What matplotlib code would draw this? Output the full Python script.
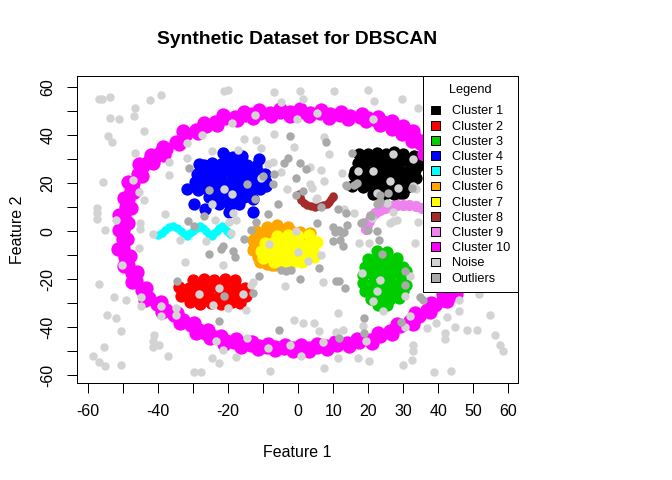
import matplotlib.pyplot as plt
from matplotlib.patches import Patch

plt.rcParams['font.family'] = ['Liberation Sans', 'DejaVu Sans']

# ------------------------------------------------------------ #
# datos (coordenadas Feature 1 / Feature 2)
# ------------------------------------------------------------ #

# Cluster 1 - negro
c1_x = [20, 22.5, 25, 27.5, 30,
        17, 19.5, 22, 24.5, 27, 29.5, 32,
        16.3, 18.8, 21.3, 23.8, 26.3, 28.8, 31.3, 33.5,
        16.8, 19.3, 21.8, 24.3, 26.8, 29.3, 31.8, 33.8,
        18.5, 21, 23.5, 26, 28.5, 31,
        21.5, 24.5, 27.5, 30,
        16, 17.5, 33, 34.5, 15.5, 29]
c1_y = [32.2, 32.8, 32.4, 32.9, 32.3,
        28.5, 29.1, 28.7, 29.2, 28.6, 29.1, 28.7,
        25, 25.6, 25.2, 25.7, 25.1, 25.6, 25.2, 25.5,
        21.5, 22.1, 21.7, 22.2, 21.6, 22.1, 21.7, 22,
        18.3, 18.8, 18.2, 18.7, 18.1, 18.6,
        15.5, 15.2, 15.6, 15.8,
        23.5, 32, 31.5, 27.5, 18.9, 16.1]

# Cluster 2 - rojo
c2_x = [-30, -27, -24, -21, -18,
        -34, -31.3, -28.6, -25.9, -23.2, -20.5, -17.8, -15.2,
        -33.5, -30.8, -28.1, -25.4, -22.7, -20, -17.3, -14.8, -14.5,
        -31, -28, -25, -22, -19, -16.5]
c2_y = [-20.2, -19.7, -20.1, -19.8, -20.2,
        -23.3, -23.8, -23.4, -23.9, -23.3, -23.8, -23.4, -23.6,
        -27, -26.6, -27.2, -26.8, -27.3, -26.7, -27.1, -26.8, -25.2,
        -29.6, -30.1, -29.7, -30.2, -29.6, -29.8]

# Cluster 3 - verde
c3_x = [22.5, 25.5,
        20, 22.7, 25.4, 28.1,
        19, 21.7, 24.4, 27.1, 29.8,
        18.5, 21.2, 23.9, 26.6, 29.3, 30.8,
        18.5, 21.2, 23.9, 26.6, 29.3, 30.8,
        19.2, 21.9, 24.6, 27.3, 30,
        20.8, 23.5, 26.2, 28.8,
        22.8, 25.5]
c3_y = [-8.3, -8.8,
        -11.5, -11.1, -11.7, -11.3,
        -14.8, -14.4, -15.0, -14.5, -14.9,
        -18.1, -17.7, -18.3, -17.8, -18.2, -16.5,
        -21.4, -21.8, -21.2, -21.7, -21.3, -22.5,
        -24.8, -24.4, -25.0, -24.5, -24.9,
        -28.0, -27.6, -28.2, -27.8,
        -30.6, -30.9]

# Cluster 4 - azul
c4_x = [-21, -18.5, -16,
        -27, -24.5, -22, -19.5, -17, -14.5, -12.2,
        -29, -26.5, -24, -21.5, -19, -16.5, -14, -11.5, -9.5,
        -29.5, -27, -24.5, -22, -19.5, -17, -14.5, -12, -9.3,
        -28.5, -26, -23.5, -21, -18.5, -16, -13.5, -11,
        -25.5, -23, -20.5, -18, -15.5, -13,
        -22.5, -19.5, -16.8,
        -31.8, -29.8, -28.4, -21.5, -19.8, -13, -9.2, -26.5, -11.2]
c4_y = [31.5, 30.8, 31.2,
        27.5, 28.3, 28, 28.6, 28.1, 27.8, 27,
        24, 24.8, 24.3, 24.9, 24.4, 24.8, 24.2, 24.6, 23.8,
        20.6, 21.2, 20.8, 21.3, 20.7, 21.2, 20.8, 21.1, 20.4,
        17.3, 17.8, 17.2, 17.7, 17.1, 17.6, 17.2, 17.5,
        14.2, 13.8, 14.3, 13.7, 14.1, 13.6,
        11.2, 10.8, 11.3,
        17.5, 11.4, 28, 32.6, 8, 8, 18.9, 9.5, 30]

# Cluster 5 - cian (zigzag)
c5_x = [-40, -39, -38, -37, -35.7, -34.5, -33.5, -32.7, -31.9, -31, -30, -29,
        -28.1, -27.2, -26.3, -25.5, -24.7, -24, -23.2, -22.5, -21.9, -21.2,
        -20.4, -19.6]
c5_y = [-1.5, -0.5, 0.6, 1.6, 2.3, 1.3, 0.1, -1.0, -2.0, -0.9, 0.2, 1.3,
        2.3, 1.3, 0.1, -1.0, -2.0, -0.9, 0.3, 1.4, 2.3, 1.3,
        0.0, -1.3]

# Cluster 6 - naranja
c6_x = [-9, -6, -3,
        -12, -9.5, -7, -4.5, -2, 0.5,
        -12.8, -11.5, -9, -6.5, -4, -1.5, 1, 3.3,
        -12.5, -11, -8.5, -6, -3.5, -1,
        -11.5, -10, -7.5, -5, -2.5,
        -9, -6.5, -4,
        -13, -10.9, -7.6]
c6_y = [2, 2.5, 1.8,
        0, -0.3, 0.3, -0.2, 0.2, -0.3,
        -3.5, -3.2, -3.7, -3.3, -3.8, -3.3, -3.6, -0.8,
        -7, -6.7, -7.2, -6.8, -7.3, -6.8,
        -10.5, -10.2, -10.7, -10.3, -10.6,
        -13.5, -14.2, -13.3,
        -7.8, -12.7, -14]

# Cluster 7 - amarillo
c7_x = [-6, -3, 0, 3,
        -9.5, -7, -4.5, -2, 0.5, 3, 5.3,
        -10.7, -8.2, -5.7, -3.2, -0.7, 1.8, 4.3,
        -10.2, -7.7, -5.2, -2.7, -0.2, 2.3, 4.6,
        -7, -4.3, -1.6, 1.2]
c7_y = [-1.8, -1.5, -2, -1.7,
        -4.9, -4.6, -5.1, -4.7, -5.2, -4.7, -4.4,
        -8, -7.7, -8.2, -7.8, -8.3, -7.8, -8.1,
        -11, -10.7, -11.2, -10.8, -11.3, -10.9, -10.6,
        -12.8, -13.1, -12.7, -12.9]

# Cluster 8 - marron (arco)
c8_x = [0.2, 0.4, 0.9, 1.6, 2.5, 3.6, 4.8, 6.0, 7.1, 8.1, 8.9, 9.5, 9.9, 10.0]
c8_y = [15.5, 14.2, 13.0, 11.9, 11.1, 10.6, 10.3, 10.4, 10.8, 11.5, 12.4, 13.4, 14.4, 14.9]

# Cluster 9 - violeta (arco)
c9_x = [19.5, 19.7, 20.1, 20.9, 22.0, 23.3, 24.8, 26.4, 28.2, 30.0,
        31.8, 33.6, 35.3, 36.8, 38.0, 39.1, 39.9, 40.3, 40.5]
c9_y = [1.0, 2.8, 4.5, 6.1, 7.5, 8.8, 9.8, 10.5, 10.9, 11.0,
        10.9, 10.5, 9.8, 8.8, 7.5, 6.1, 4.5, 2.8, 1.0]

# Cluster 10 - magenta (anillo): borde exterior, borde interior, centro
c10_x = [-51.3, -51.1, -49.7, -48.5, -45.6, -42.0, -38.7, -32.9, -27.0, -21.4,
         -15.5, -11.1, -5.3, 0.6, 6.4, 12.3, 18.1, 22.8, 26.9, 29.8,
         32.8, 35.8, 40.1, 44.0, 46.8, 48.1, 48.1, 47.5, 45.2, 42.4,
         37.8, 32.8, 26.9, 21.1, 14.4, 8.2, 3.1, -1.5, -6.6, -11.4,
         -16.4, -21.2, -25.1, -29.1, -33.8, -38.8, -43.8, -47.6, -49.7, -51.5,
         -48.6, -47.9, -47.0, -44.7, -41.6, -38.4, -34.1, -28.5, -23.1, -17.6,
         -12.8, -7.9, -2.3, 3.2, 8.8, 14.3, 19.3, 23.5, 26.8, 29.7,
         32.4, 36.0, 39.8, 43.0, 44.9, 45.5, 45.2, 43.9, 41.5, 38.0,
         33.4, 28.2, 22.7, 16.7, 10.6, 5.3, 0.7, -3.9, -8.7, -13.3,
         -17.9, -22.1, -25.8, -29.9, -34.5, -39.3, -43.5, -46.2, -48.1, -48.8,
         -50.0, -49.9, -49.8, -49.2, -48.5, -47.9, -47.2, -45.8, -44.4, -42.7,
         -41.0, -39.4, -37.8, -35.0, -32.1, -29.3, -26.4, -23.7, -20.9, -18.1,
         -15.2, -13.1, -10.9, -8.1, -5.2, -2.4, 0.5, 3.4, 6.2, 9.1,
         11.9, 14.8, 17.6, 19.9, 22.2, 24.2, 26.2, 27.6, 29.0, 30.5,
         31.9, 33.4, 34.8, 36.9, 39.0, 40.9, 42.8, 44.2, 45.6, 46.2,
         46.8, 46.8, 46.8, 46.5, 46.2, 45.1, 44.0, 42.7, 41.3, 39.1,
         36.8, 34.4, 31.9, 29.1, 26.2, 23.4, 20.5, 17.3, 14.0, 11.0,
         7.9, 5.5, 3.0, 0.8, -1.5, -4.0, -6.5, -8.9, -11.2, -13.6,
         -16.0, -18.4, -20.7, -22.6, -24.5, -26.5, -28.4, -30.7, -33.0, -35.4,
         -37.8, -40.3, -42.7, -44.6, -46.4, -47.5, -48.5, -49.4, -50.2, -50.1]
c10_y = [0.5, 6.6, 13.9, 20.6, 27.9, 31.8, 35.2, 41.6, 45.0, 48.4,
         49.6, 50.4, 50.8, 50.8, 50.4, 49.6, 48.8, 47.6, 45.9, 43.9,
         41.6, 37.8, 30.5, 21.5, 10.8, 0.5, -10.2, -20.8, -26.2, -29.2,
         -33.7, -38.4, -42.6, -46.5, -47.7, -49.0, -49.7, -49.9, -49.6, -49.0,
         -48.0, -46.9, -44.6, -42.2, -38.0, -33.7, -28.5, -21.2, -14.4, -7.2,
         3.4, 9.7, 16.4, 23.0, 28.3, 31.8, 36.4, 41.1, 44.4, 46.5,
         47.4, 48.0, 48.2, 48.0, 47.4, 46.7, 45.8, 44.4, 42.6, 40.6,
         37.6, 32.4, 24.7, 15.3, 5.4, -4.6, -14.7, -22.3, -26.3, -29.9,
         -34.2, -38.4, -42.3, -44.7, -45.9, -46.8, -47.2, -47.2, -46.8, -46.1,
         -45.0, -43.4, -41.2, -38.0, -34.0, -29.5, -23.6, -16.9, -10.2, -3.2,
         0.5, 3.5, 6.4, 10.0, 13.5, 16.8, 20.1, 23.7, 27.2, 29.1,
         31.0, 32.7, 34.3, 37.4, 40.5, 42.2, 43.9, 45.6, 47.2, 47.8,
         48.3, 48.7, 49.1, 49.3, 49.5, 49.5, 49.5, 49.3, 49.1, 48.7,
         48.3, 48.0, 47.6, 47.0, 46.4, 45.6, 44.7, 43.8, 42.8, 41.7,
         40.5, 38.7, 36.8, 33.3, 29.7, 25.4, 21.0, 15.8, 10.5, 5.5,
         0.5, -4.7, -9.9, -15.1, -20.3, -22.9, -25.5, -27.0, -28.5, -30.7,
         -32.8, -35.1, -37.4, -39.5, -41.5, -43.4, -45.3, -45.9, -46.5, -47.2,
         -47.8, -48.1, -48.4, -48.5, -48.6, -48.5, -48.3, -48.1, -47.8, -47.3,
         -46.8, -46.3, -45.7, -44.6, -43.5, -42.3, -41.1, -39.1, -37.0, -34.9,
         -32.8, -30.3, -27.8, -24.3, -20.7, -17.4, -14.0, -10.5, -7.0, -3.3]

# Noise - gris claro
noise_x = [-56.9, -56.1, -53.7, -42.4, -39.1, -46.6, -46.9, -53.7, -51.1, -44.0,
           -54.3, -53.1, -46.6, -55.7, -57.6, -57.6, -57.6, -55.1, -21.1, -27.5,
           -31.9, -24.5, -31.7, -36.9, -36.9, -47.3, -45.4, -44.0, -38.0, -52.1,
           -45.1, -45.1, -21.1, -24.7, -23.7,
           -20.2, -6.9, 0.5, 1.3, 10.3, 19.8, 21.7, -4.9, -12.3, -18.9,
           5.3, -0.4, 21.3, -6.9, -15.4, -12.1, 7.3, -1.1, -10.7, -17.3,
           8.9, -8.7, -7.3, 3.4, 6.5, 12.5, -4.9, 7.4, -3.2, 3.3,
           3.9, 5.1, -18.9, -10.7, -18.6, -19.9, -17.8, 17.0, 21.3, 13.1, 16.0,
           29.7, 34.3, 27.1, 32.9, 26.2, 32.9, 22.4, 27.1, 21.0,
           -41.4, -45.4, -33.7, -26.4, -32.3, -21.6, -50.4, -56.9, -52.6, -49.2,
           -44.9, -44.9, -54.7, -52.1, -50.7, -39.2, -39.2, -34.9, -34.9, -28.3,
           -22.7, -24.3, -41.1, -41.4, -41.6, -39.7, -55.4, -58.6, -56.9, -55.1,
           -50.7, -37.3, -29.7, -27.8, -23.5, -21.6, -24.5, -22.7,
           -19.2, -8.3, -0.7, -0.2, 2.7, 6.5, 17.3, 20.1, 7.0, -3.7,
           -13.0, -13.5, -15.9, -14.9, -20.2, 11.3, -1.1, 1.3, 4.6, 5.8,
           10.8, 12.7, 18.4, -14.5, -8.5, -2.3, 7.0, 19.3, 0.8, -17.8,
           11.3, 17.0, 20.3, -8.0, 7.4, 21.3, 18.2,
           33.3, 31.9, 23.3, 22.4, 30.5, 24.1, 46.0, 51.7, 46.0, 42.4,
           44.8, 48.1, 51.0, 54.8, 56.2, 57.6, 58.4, 39.5, 41.9, 41.9,
           36.7, 32.9, 32.9, 32.4, 30.0, 38.8, 43.8, 31.9, 30.5,
           5.3, 25.3, 27.1, 26.2, 28.1, 34.3, 28.6, 33.8]
noise_y = [55.3, 55.0, 55.8, 54.6, 56.7, 51.3, 47.9, 47.1, 46.7, 41.8,
           39.6, 37.2, 32.5, 20.4, 9.8, 7.75, 5.0, 0.5, 58.6, 40.0,
           36.9, 33.5, 30.5, 28.9, 23.3, 21.4, 16.4, 12.9, 7.3, 4.6,
           3.6, 1.1, 17.5, 11.5, 4.7,
           58.9, 58.0, 58.5, 55.3, 58.5, 58.9, 54.3, 53.9, 48.3, 45.3,
           49.2, 46.9, 46.9, 40.4, 38.6, 38.0, 39.4, 35.3, 34.8, 33.9,
           32.1, 27.9, 28.9, 26.9, 25.5, 24.4, 24.7, 21.0, 17.5, 19.8,
           18.2, 13.3, 15.4, 22.1, 7.75, 3.9, 4.7, 25.1, 25.1, 9.2, 7.75,
           55.0, 51.5, 32.1, 30.0, 21.0, 18.9, 16.1, 4.3, 5.7,
           -1.1, -7.0, -3.5, -4.2, -12.9, -14.2, -14.2, -22.0, -27.5, -28.8,
           -27.5, -31.3, -35.0, -36.1, -41.7, -31.3, -35.4, -32.0, -35.0, -26.1,
           -23.6, -30.6, -43.3, -45.6, -48.3, -47.5, -48.3, -52.1, -54.5, -56.3,
           -55.8, -52.1, -58.6, -58.6, -45.8, -49.3, -52.8, -54.9,
           -0.7, -5.3, 0.0, -8.6, -12.5, -9.8, -4.9, -4.9, -21.1, -22.9,
           -21.1, -22.2, -26.1, -32.7, -32.0, -34.0, -36.8, -38.2, -38.2, -41.4,
           -42.0, -41.0, -39.6, -44.5, -48.6, -47.5, -46.1, -45.6, -52.1, -52.5,
           -52.8, -52.8, -53.9, -58.3, -57.0, -28.9, -17.4,
           -4.9, -18.8, -20.2, -25.0, -27.1, -33.1, -28.5, -26.1, -33.1, -35.8,
           -40.0, -41.0, -41.0, -35.0, -43.3, -47.5, -49.8, -38.2, -42.4, -44.8,
           -40.3, -47.2, -49.8, -53.5, -55.8, -58.6, -58.1, -35.4, -40.0,
           13.8, 11.7, 8.2, 3.3, 4.7, 4.0, 17.9, 17.5]

# Outliers - gris oscuro
out_x = [-31.1, -25.4, -26.9, -31.4,
         -2.3, 7.9, -3.0, -4.0, 0.5, 2.2, -6.9, -0.7, -7.1, -10.2,
         -14.7, 1.3, -0.7, -12.3, -5.9, -8.7, 6.5, 15.3, 13.6, 16.0,
         11.3, 13.6, -12.1, -13.5, 20.8, 17.9, 11.7,
         25.7, 23.3, 22.4,
         -25.4, -22.1, -21.6, -34.7, -21.1, -22.6,
         -18.6, -18.0, -15.4, -4.9, -2.1, -3.5, 0.6, 6.0, -11.1, -12.9,
         -5.4, 10.8, 11.7, 13.4, 10.0, 12.7, 13.1, 18.9, 11.7, 18.9,
         22.4, 23.1, 23.8, 30.5, 30.5, 34.8, 35.7, 29.5,
         5.3, 10.0, 10.5, 12.4, 13.8, 18.6, 20.5, 22.9, 20.0, 13.8,
         23.3, 32.4, 16.7, 11.9, -29.7]
out_y = [26.2, 17.1, 6.4, 4.3,
         39.7, 37.3, 30.7, 28.6, 28.3, 25.8, 23.8, 22.3, 19.6, 23.0,
         19.6, 16.8, 15.0, 13.3, 11.25, 7.1, 10.1, 32.5, 19.2, 19.2,
         9.2, 7.75, 3.9, 0.5, 6.4, 3.6, 0.5,
         16.1, 12.6, 11.25,
         -9.5, -7.3, -6.3, -20.6, -27.1, -37.5,
         -8.1, -10.8, -3.1, -16.0, -16.0, -16.7, -19.9, -15.3, -18.8, -25.7,
         -41.0, -20.6, -20.6, -23.6, -4.2, -6.3, -0.3, -36.1, -44.5, -42.4,
         0.0, -3.5, -9.5, -16.7, -22.2, -27.5, -28.5, -37.8,
         3.6, 1.9, -0.2, -0.8, 2.6, 4.0, 6.8, 11.7, 0.5, 18.9,
         15.1, 17.9, 20.0, -3.6, 2.2]

legend_labels = ["Cluster 1", "Cluster 2", "Cluster 3", "Cluster 4", "Cluster 5",
                 "Cluster 6", "Cluster 7", "Cluster 8", "Cluster 9", "Cluster 10",
                 "Noise", "Outliers"]
legend_colors = ["#000000", "#FF0000", "#00CD00", "#0000FF", "#00FFFF",
                 "#FFA500", "#FFFF00", "#A52A2A", "#EE82EE", "#FF00FF",
                 "#D3D3D3", "#A9A9A9"]

x_ticks = [-60, -50, -40, -30, -20, -10, 0, 10, 20, 30, 40, 50, 60]
x_tick_labels = ["-60", "", "-40", "", "-20", "", "0", "10", "20", "30", "40", "50", "60"]
y_ticks = [-60, -50, -40, -30, -20, -10, 0, 10, 20, 30, 40, 50, 60]
y_tick_labels = ["-60", "", "-40", "", "-20", "", "0", "", "20", "", "40", "", "60"]

# ------------------------------------------------------------ #
# grafico
# ------------------------------------------------------------ #

fig = plt.figure(figsize=(7, 5), dpi=96)
ax = fig.add_axes([0.1141, 0.2015, 0.6562, 0.6392])

clusters = [(c1_x, c1_y, 85), (c2_x, c2_y, 85), (c3_x, c3_y, 85),
            (c4_x, c4_y, 85), (c5_x, c5_y, 40), (c6_x, c6_y, 85),
            (c7_x, c7_y, 85), (c8_x, c8_y, 40), (c9_x, c9_y, 70),
            (c10_x, c10_y, 115)]
for (cx, cy, size), color in zip(clusters, legend_colors):
    ax.scatter(cx, cy, s=size, color=color, linewidths=0)

ax.scatter(noise_x, noise_y, s=40, color=legend_colors[10], linewidths=0)
ax.scatter(out_x, out_y, s=40, color=legend_colors[11], linewidths=0)

ax.set_xlim(-63.3, 62.7)
ax.set_ylim(-63.3, 64.5)
ax.set_xticks(x_ticks)
ax.set_xticklabels(x_tick_labels)
ax.set_yticks(y_ticks)
ax.set_yticklabels(y_tick_labels, rotation=90, va='center')
ax.tick_params(direction='out', length=7.2, width=0.75, pad=8.5, labelsize=12)
for sp in ax.spines.values():
    sp.set_linewidth(0.75)

ax.set_title('Synthetic Dataset for DBSCAN', fontsize=14.4, fontweight='bold', pad=24)
ax.set_xlabel('Feature 1', fontsize=12)
ax.xaxis.set_label_coords(0.5, -0.2)
ax.set_ylabel('Feature 2', fontsize=12)
ax.yaxis.set_label_coords(-0.117, 0.5)

handles = [Patch(facecolor=c, edgecolor='black', linewidth=0.75) for c in legend_colors]
leg = ax.legend(handles, legend_labels, loc='upper right', title='Legend',
                fontsize=9.6, title_fontsize=9.6, borderaxespad=0, borderpad=0.6,
                handlelength=0.75, handleheight=0.7, handletextpad=0.9,
                labelspacing=0.25, fancybox=False, framealpha=1, edgecolor='black')
leg.get_frame().set_linewidth(0.75)
leg._legend_box.sep = 7  # hueco extra entre el titulo y las entradas

fig.savefig('out.png', dpi=96)
